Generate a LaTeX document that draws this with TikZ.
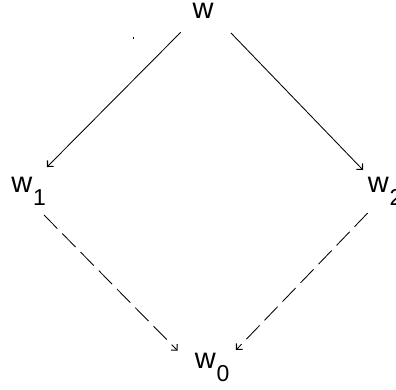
\documentclass[tikz,border=0pt]{standalone}
\usepackage{fontspec}
\setmainfont{Liberation Sans}
\usetikzlibrary{arrows.meta}
\newcommand{\lbl}[2]{\fontsize{29}{29}\selectfont #1\kern0.8pt\raisebox{-13pt}{\fontsize{23}{23}\selectfont #2}}
\begin{document}
\begin{tikzpicture}[x=1pt,y=-1pt,
  lab/.style={inner sep=0pt, outer sep=0pt, anchor=base west, text height=15pt},
  conn/.style={line width=0.85pt, -{Straight Barb[angle=90:6pt, line width=1.1pt]}},
  dconn/.style={conn, dash pattern=on 19pt off 7pt}]
\useasboundingbox (0,0) rectangle (396,389);
\node[lab] (w)  at (192.5,18)  {\fontsize{29}{29}\selectfont w};
\node[lab] (w1) at (11.5,192)  {\lbl{w}{1}};
\node[lab] (w2) at (367.8,192) {\lbl{w}{2}};
\node[lab] (w0) at (194.8,368) {\lbl{w}{0}};
\draw[conn] ([shift={(-11.8,14.3)}]w.base west) -- ([shift={(35.5,-25)}]w1.base west);
\draw[conn] ([shift={(38.5,15)}]w.base west) -- ([shift={(-4.8,-22)}]w2.base west);
\draw[dconn] ([shift={(32.5,23)}]w1.base west) -- ([shift={(-17.1,-17.3)}]w0.base west);
\draw[dconn] ([shift={(-0.1,21)}]w2.base west) -- ([shift={(41.2,-18)}]w0.base west);
\fill (132.8,37.3) rectangle (133.8,39.3);
\end{tikzpicture}
\end{document}
